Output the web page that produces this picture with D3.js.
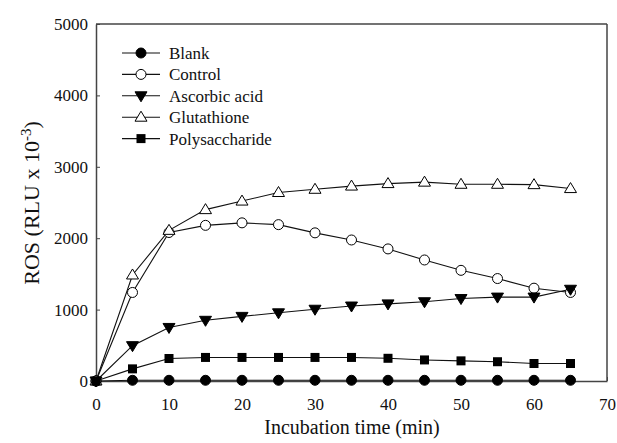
<!DOCTYPE html>
<html>
<head>
<meta charset="utf-8">
<script src="https://cdn.jsdelivr.net/npm/d3@7"></script>
<style>
  body { margin: 0; background: #fff; }
  svg, svg text { font-family: "Liberation Serif", "Times New Roman", serif !important; }
</style>
</head>
<body>
<div id="chart"></div>
<script>
// Data
const times = [0, 5, 10, 15, 20, 25, 30, 35, 40, 45, 50, 55, 60, 65];
const blank = [0, 10, 10, 10, 10, 10, 10, 10, 10, 10, 10, 10, 10, 10];
const control = [0, 1240, 2080, 2180, 2215, 2190, 2075, 1975, 1850, 1695, 1550, 1435, 1300, 1240];
const ascorbic = [0, 495, 750, 850, 905, 955, 1005, 1050, 1080, 1110, 1155, 1175, 1175, 1285];
const glutathione = [0, 1485, 2110, 2400, 2520, 2640, 2685, 2730, 2765, 2785, 2755, 2755, 2750, 2695];
const polysaccharide = [0, 170, 315, 330, 330, 330, 330, 330, 318, 295, 282, 270, 245, 245];

const seriesNames = ["Blank", "Control", "Ascorbic acid", "Glutathione", "Polysaccharide"];
const seriesValues = [blank, control, ascorbic, glutathione, polysaccharide];
const seriesMarkers = ["circleFilled", "circleOpen", "triangleDown", "triangleOpen", "square"];

const xTicks = [0, 10, 20, 30, 40, 50, 60, 70];
const yTicks = [0, 1000, 2000, 3000, 4000, 5000];

const margin = { top: 24, right: 10, bottom: 62, left: 96 };
const W = 617, H = 443;
const width = W - margin.left - margin.right;
const height = H - margin.top - margin.bottom;
const serif = "'Liberation Serif', 'Times New Roman', serif";

const svg = d3.select("#chart").append("svg")
    .attr("width", W).attr("height", H)
    .attr("font-family", serif);
const g = svg.append("g").attr("transform", `translate(${margin.left},${margin.top})`);

const x = d3.scaleLinear().domain([0, 70]).range([0, width]);
const y = d3.scaleLinear().domain([0, 5000]).range([height, 0]);

// Axes (ticks inward)
const axisColor = "#444";
const xAxis = g.append("g").attr("transform", `translate(0,${height})`)
    .call(d3.axisBottom(x).tickValues(xTicks).tickFormat(d3.format("d"))
        .tickSize(-4).tickPadding(10).tickSizeOuter(0));
const yAxis = g.append("g")
    .call(d3.axisLeft(y).tickValues(yTicks).tickFormat(d3.format("d"))
        .tickSize(-4).tickPadding(8).tickSizeOuter(0));
[xAxis, yAxis].forEach(a => {
    a.attr("font-family", serif).attr("font-size", 17);
    a.select(".domain").attr("stroke", axisColor).attr("stroke-width", 1.5);
    a.selectAll(".tick line").attr("stroke", axisColor);
    a.selectAll(".tick text").attr("fill", "#111");
});
xAxis.selectAll(".tick text").attr("y", 29).attr("dy", 0);

// Top and right frame
g.append("line").attr("x1", 0).attr("x2", width).attr("y1", 0).attr("y2", 0)
    .attr("stroke", axisColor).attr("stroke-width", 1.5);
g.append("line").attr("x1", width).attr("x2", width).attr("y1", 0).attr("y2", height)
    .attr("stroke", axisColor).attr("stroke-width", 1.5);

// Markers
function drawMarker(sel, type, cx, cy) {
    if (type === "circleFilled" || type === "circleOpen") {
        sel.append("circle").attr("cx", cx).attr("cy", cy).attr("r", 5)
            .attr("fill", type === "circleFilled" ? "#000" : "#fff")
            .attr("stroke", "#000").attr("stroke-width", 1);
    } else if (type === "triangleDown") {
        sel.append("path")
            .attr("d", `M${cx - 6},${cy - 4} L${cx + 6},${cy - 4} L${cx},${cy + 6} Z`)
            .attr("fill", "#000").attr("stroke", "#000");
    } else if (type === "triangleOpen") {
        sel.append("path")
            .attr("d", `M${cx},${cy - 6} L${cx + 6},${cy + 4} L${cx - 6},${cy + 4} Z`)
            .attr("fill", "#fff").attr("stroke", "#000").attr("stroke-width", 1);
    } else if (type === "square") {
        sel.append("rect").attr("x", cx - 4.5).attr("y", cy - 4.5)
            .attr("width", 9).attr("height", 9).attr("fill", "#000");
    }
}

const line = d3.line().x(d => x(d[0])).y(d => y(d[1]));

seriesValues.forEach((vals, i) => {
    const pts = times.map((t, j) => [t, vals[j]]);
    g.append("path").datum(pts).attr("d", line)
        .attr("fill", "none").attr("stroke", "#111").attr("stroke-width", 1.1);
});
seriesValues.forEach((vals, i) => {
    const mg = g.append("g");
    times.forEach((t, j) => drawMarker(mg, seriesMarkers[i], x(t), y(vals[j])));
});

// Legend
const legX = 122 - margin.left, legY = 53 - margin.top, legStep = 21.4;
seriesNames.forEach((name, i) => {
    const ly = legY + i * legStep;
    g.append("line").attr("x1", legX).attr("x2", legX + 38).attr("y1", ly).attr("y2", ly)
        .attr("stroke", "#111").attr("stroke-width", 1.1);
    drawMarker(g, seriesMarkers[i], legX + 19, ly);
    g.append("text").attr("x", legX + 47).attr("y", ly).attr("dy", "0.35em")
        .attr("font-size", 17).attr("fill", "#111").text(name);
});

// Axis titles
svg.append("text").attr("x", 352).attr("y", 434)
    .attr("text-anchor", "middle").attr("font-size", 20).attr("fill", "#111")
    .text("Incubation time (min)");

const yl = svg.append("text")
    .attr("transform", `translate(39,203) rotate(-90)`)
    .attr("text-anchor", "middle").attr("font-size", 22).attr("fill", "#111");
yl.append("tspan").text("ROS (RLU x 10");
yl.append("tspan").attr("baseline-shift", "super").attr("font-size", 15).text("-3");
yl.append("tspan").text(")");
</script>
</body>
</html>
